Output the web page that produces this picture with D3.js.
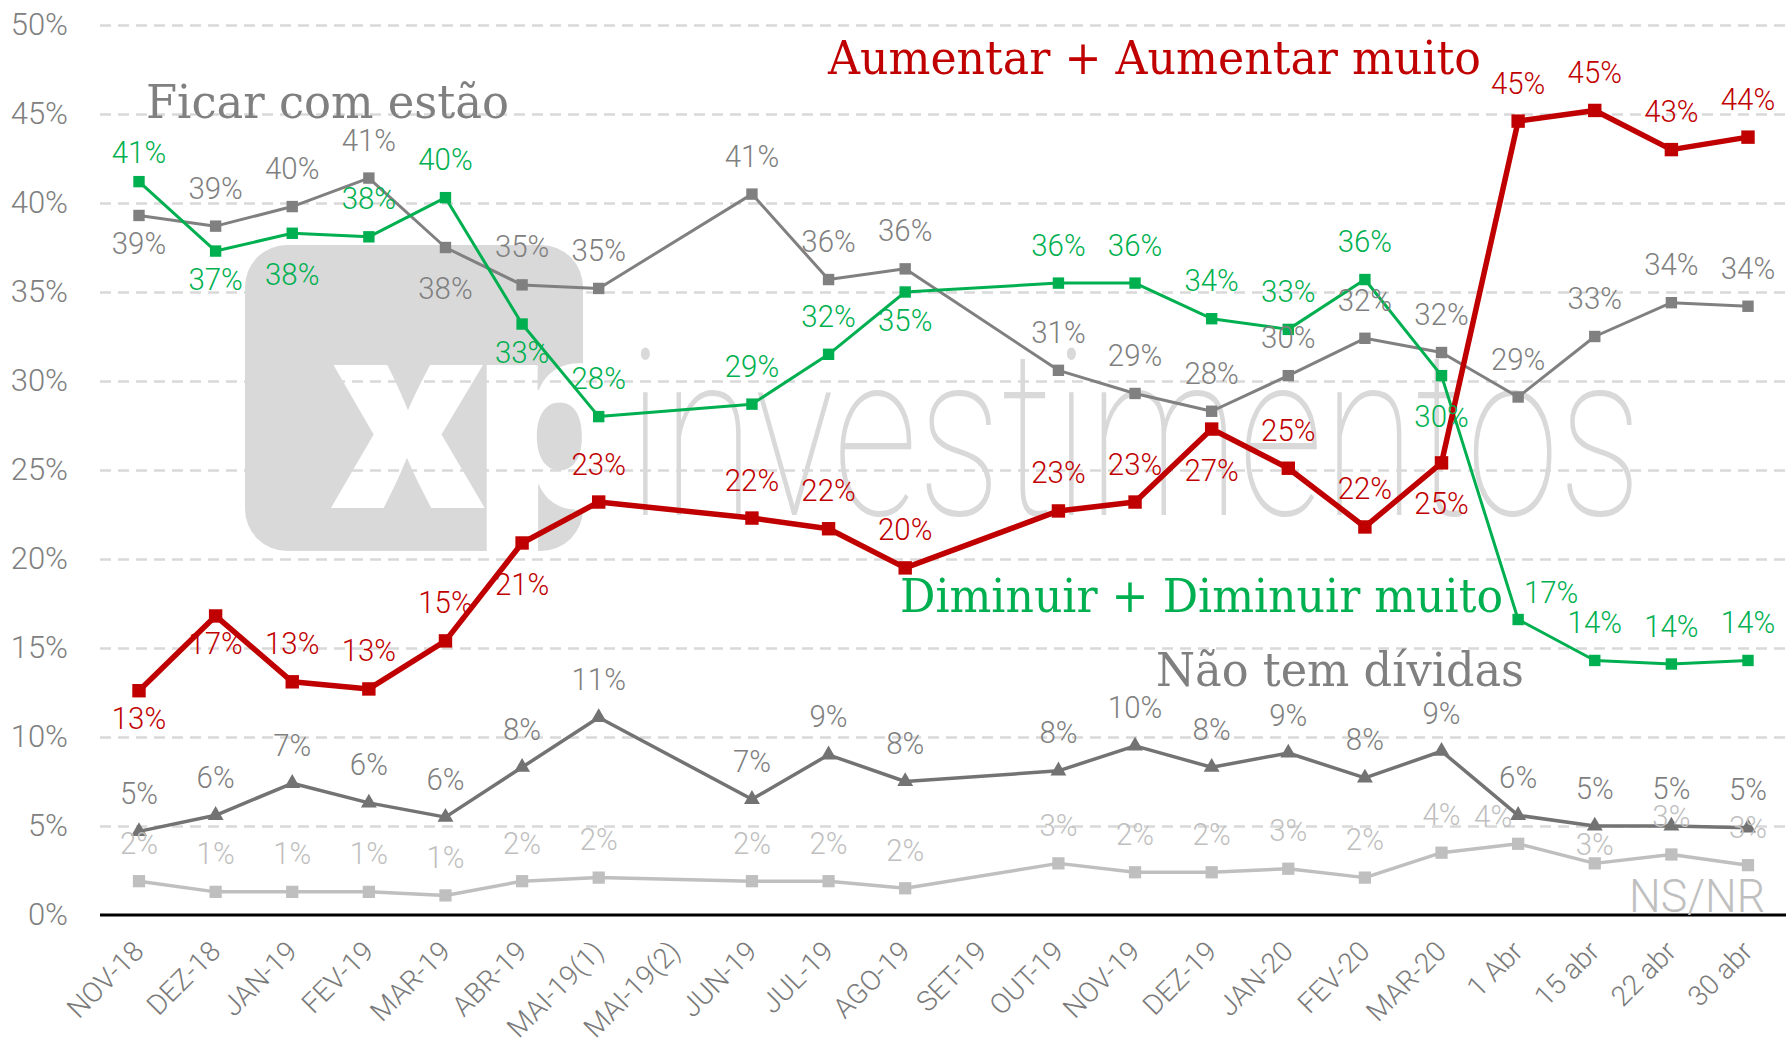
<!DOCTYPE html>
<html>
<head>
<meta charset="utf-8">
<script src="https://cdn.jsdelivr.net/npm/d3@7"></script>
<style>
  body { margin: 0; background: #fff; }
  svg { display: block; }
</style>
</head>
<body>
<svg id="chart" width="1786" height="1038"></svg>
<script>
// categories on the x axis (no survey in MAI-19(2) and SET-19)
var categories = ['NOV-18', 'DEZ-18', 'JAN-19', 'FEV-19', 'MAR-19', 'ABR-19', 'MAI-19(1)', 'MAI-19(2)',
  'JUN-19', 'JUL-19', 'AGO-19', 'SET-19', 'OUT-19', 'NOV-19', 'DEZ-19', 'JAN-20', 'FEV-20', 'MAR-20',
  '1 Abr', '15 abr', '22 abr', '30 abr'];

var yTicks = [0, 5, 10, 15, 20, 25, 30, 35, 40, 45, 50];

// series values (%)
var aumentar = [12.6, 16.8, 13.1, 12.7, 15.4, 20.9, 23.2, null, 22.3, 21.7, 19.5, null, 22.7, 23.2, 27.3, 25.1, 21.8, 25.4, 44.6, 45.2, 43.0, 43.7];
var diminuir = [41.2, 37.3, 38.3, 38.1, 40.3, 33.2, 28.0, null, 28.7, 31.5, 35.0, null, 35.5, 35.5, 33.5, 32.9, 35.7, 30.3, 16.6, 14.3, 14.1, 14.3];
var ficar = [39.3, 38.7, 39.8, 41.4, 37.5, 35.4, 35.2, null, 40.5, 35.7, 36.3, null, 30.6, 29.3, 28.3, 30.3, 32.4, 31.6, 29.1, 32.5, 34.4, 34.2];
var naoTem = [4.7, 5.6, 7.4, 6.3, 5.5, 8.3, 11.1, null, 6.5, 9.0, 7.5, null, 8.1, 9.5, 8.3, 9.1, 7.7, 9.2, 5.6, 5.0, 5.0, 4.9];
var nsnr = [1.9, 1.3, 1.3, 1.3, 1.1, 1.9, 2.1, null, 1.9, 1.9, 1.5, null, 2.9, 2.4, 2.4, 2.6, 2.1, 3.5, 4.0, 2.9, 3.4, 2.8];

// printed labels
var aumentarLabels = ['13%', '17%', '13%', '13%', '15%', '21%', '23%', null, '22%', '22%', '20%', null, '23%', '23%', '27%', '25%', '22%', '25%', '45%', '45%', '43%', '44%'];
var diminuirLabels = ['41%', '37%', '38%', '38%', '40%', '33%', '28%', null, '29%', '32%', '35%', null, '36%', '36%', '34%', '33%', '36%', '30%', '17%', '14%', '14%', '14%'];
var ficarLabels = ['39%', '39%', '40%', '41%', '38%', '35%', '35%', null, '41%', '36%', '36%', null, '31%', '29%', '28%', '30%', '32%', '32%', '29%', '33%', '34%', '34%'];
var naoTemLabels = ['5%', '6%', '7%', '6%', '6%', '8%', '11%', null, '7%', '9%', '8%', null, '8%', '10%', '8%', '9%', '8%', '9%', '6%', '5%', '5%', '5%'];
var nsnrLabels = ['2%', '1%', '1%', '1%', '1%', '2%', '2%', null, '2%', '2%', '2%', null, '3%', '2%', '2%', '3%', '2%', '4%', '4%', '3%', '3%', '3%'];

// where each label sits: a = above, u = just above, b = below, B = further below, r/l/c = special
var aumentarSide = 'bbaaaBa-aaa-aaBaaBaaaa';
var diminuirSide = 'ubBaaba-aab-aaaaaBraaa';
var ficarSide = 'baaaBaa-aaa-aaaaaaaaaa';
var naoTemSide = 'aaaaaaa-aaa-aaaaaaaaaa';
var nsnrSide = 'aaaaaaa-aaa-aaaaaalcaa';

var labelOffset = {
  a: [0, -39], u: [0, -30], b: [0, 27], B: [0, 40], r: [33, -28], l: [-25, -28], c: [0, -20]
};

var width = 1786, height = 1038;
var svg = d3.select('#chart');

var x = d3.scalePoint().domain(categories).range([139, 1748]);
var y = d3.scaleLinear().domain([0, 50]).range([915, 25]);

var labelFont = 'Roboto, sans-serif';
var titleFont = '"DejaVu Serif Condensed", "DejaVu Serif", serif';

// watermark
var wm = svg.append('g').attr('class', 'watermark');
wm.append('clipPath').attr('id', 'boxclip')
  .append('rect').attr('x', 245).attr('y', 245).attr('width', 338).attr('height', 306).attr('rx', 42);
wm.append('rect')
  .attr('x', 245).attr('y', 245).attr('width', 338).attr('height', 306).attr('rx', 42)
  .attr('fill', '#d9d9d9');
wm.append('text')
  .attr('clip-path', 'url(#boxclip)')
  .attr('x', 328).attr('y', 508)
  .attr('font-family', 'Inter, Lato, sans-serif').attr('font-weight', 900)
  .attr('font-size', 262).attr('letter-spacing', -14)
  .attr('fill', '#fff')
  .text('xp');
wm.append('text')
  .attr('x', 628).attr('y', 515)
  .attr('font-family', 'Roboto, sans-serif').attr('font-weight', 100)
  .attr('font-size', 232)
  .attr('textLength', 1014).attr('lengthAdjust', 'spacingAndGlyphs')
  .attr('fill', '#d9d9d9')
  .text('investimentos');

// gridlines
var gridAxis = d3.axisLeft(y).tickValues(yTicks.slice(1)).tickSize(-(width - 100)).tickFormat('');
var gridG = svg.append('g').attr('transform', 'translate(100,0)').call(gridAxis);
gridG.select('.domain').remove();
gridG.selectAll('line')
  .attr('stroke', '#d9d9d9').attr('stroke-width', 2.5).attr('stroke-dasharray', '11,7');

// y labels
var yAxis = d3.axisLeft(y).tickValues(yTicks).tickSize(0).tickPadding(32).tickFormat(function (d) { return d + '%'; });
var yAxisG = svg.append('g').attr('transform', 'translate(100,0)').call(yAxis);
yAxisG.select('.domain').remove();
yAxisG.selectAll('text')
  .attr('font-family', labelFont).attr('font-weight', 300)
  .attr('font-size', 31).attr('fill', '#808080');

// baseline
svg.append('line')
  .attr('x1', 100).attr('x2', width).attr('y1', y(0)).attr('y2', y(0))
  .attr('stroke', '#000').attr('stroke-width', 3);

// x labels
var xAxis = d3.axisBottom(x).tickSize(0).tickPadding(0);
var xAxisG = svg.append('g').attr('transform', 'translate(0,' + y(0) + ')').call(xAxis);
xAxisG.select('.domain').remove();
xAxisG.selectAll('text')
  .attr('font-family', labelFont).attr('font-weight', 300)
  .attr('font-size', 28).attr('fill', '#7a7a7a')
  .attr('text-anchor', 'end')
  .attr('y', 0).attr('dy', 0)
  .attr('transform', 'translate(6,38) rotate(-45)');

var marksG = svg.append('g');
var labelsG = svg.append('g');

function drawSeries(values, labels, sides, style) {
  var pts = categories.map(function (c, i) {
    return { cat: c, v: values[i], label: labels[i], side: sides[i] };
  }).filter(function (d) { return d.v !== null; });

  var line = d3.line()
    .x(function (d) { return x(d.cat); })
    .y(function (d) { return y(d.v); });

  marksG.append('path')
    .datum(pts)
    .attr('fill', 'none')
    .attr('stroke', style.color)
    .attr('stroke-width', style.width)
    .attr('stroke-linejoin', 'round')
    .attr('d', line);

  marksG.append('g').selectAll('path')
    .data(pts)
    .enter().append('path')
      .attr('transform', function (d) { return 'translate(' + x(d.cat) + ',' + y(d.v) + ')'; })
      .attr('d', d3.symbol().type(style.symbol).size(style.size))
      .attr('fill', style.color);

  labelsG.append('g').selectAll('text')
    .data(pts)
    .enter().append('text')
      .attr('transform', function (d) {
        var o = labelOffset[d.side];
        return 'translate(' + (x(d.cat) + o[0]) + ',' + (y(d.v) + o[1]) + ') scale(0.92,1)';
      })
      .attr('text-anchor', 'middle')
      .attr('dy', '0.36em')
      .attr('font-family', labelFont).attr('font-weight', 300)
      .attr('font-size', 32)
      .attr('fill', style.labelColor)
      .text(function (d) { return d.label; });
}

drawSeries(nsnr, nsnrLabels, nsnrSide, { color: '#bfbfbf', labelColor: '#bfbfbf', width: 3.5, symbol: d3.symbolSquare, size: 150 });
drawSeries(naoTem, naoTemLabels, naoTemSide, { color: '#737373', labelColor: '#7f7f7f', width: 3.5, symbol: d3.symbolTriangle, size: 110 });
drawSeries(ficar, ficarLabels, ficarSide, { color: '#808080', labelColor: '#808080', width: 3, symbol: d3.symbolSquare, size: 130 });
drawSeries(diminuir, diminuirLabels, diminuirSide, { color: '#00b050', labelColor: '#00b050', width: 3, symbol: d3.symbolSquare, size: 130 });
drawSeries(aumentar, aumentarLabels, aumentarSide, { color: '#c00000', labelColor: '#c00000', width: 5.5, symbol: d3.symbolSquare, size: 180 });

// series titles
var titles = [
  { text: 'Ficar com estão', x: 146, y: 118, len: 363, color: '#808080' },
  { text: 'Aumentar + Aumentar muito', x: 828, y: 74, len: 653, color: '#c00000' },
  { text: 'Diminuir + Diminuir muito', x: 900, y: 612, len: 603, color: '#00b050' },
  { text: 'Não tem dívidas', x: 1156, y: 686, len: 368, color: '#808080' }
];
svg.append('g').selectAll('text')
  .data(titles)
  .enter().append('text')
    .attr('x', function (d) { return d.x; })
    .attr('y', function (d) { return d.y; })
    .attr('textLength', function (d) { return d.len; })
    .attr('lengthAdjust', 'spacingAndGlyphs')
    .attr('font-family', titleFont)
    .attr('font-size', 47)
    .attr('fill', function (d) { return d.color; })
    .text(function (d) { return d.text; });

svg.append('text')
  .attr('x', 1629).attr('y', 912)
  .attr('textLength', 136).attr('lengthAdjust', 'spacingAndGlyphs')
  .attr('font-family', labelFont).attr('font-weight', 300)
  .attr('font-size', 46).attr('fill', '#bfbfbf')
  .text('NS/NR');
</script>
</body>
</html>
